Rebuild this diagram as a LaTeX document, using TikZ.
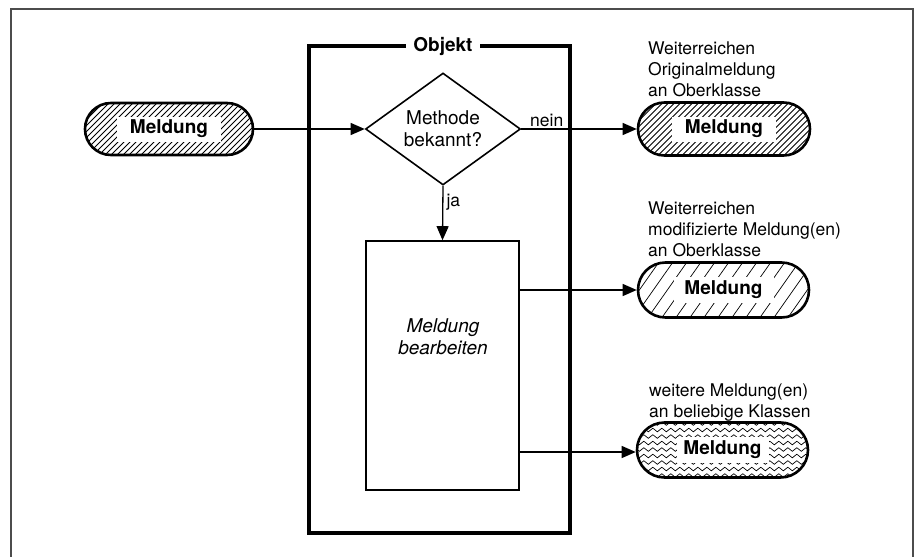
\documentclass[tikz,border=0pt]{standalone}
\usepackage{fontspec}
\setmainfont{TeX Gyre Heros}
\usetikzlibrary{shapes.geometric,shapes.misc,arrows.meta,decorations.pathmorphing}
\begin{document}
\begin{tikzpicture}[x=1pt,y=-1pt,
  pill/.style={rounded rectangle, draw, line width=2.6pt, minimum width=171pt, minimum height=53pt, inner sep=0pt,
    font=\bfseries\fontsize{19}{22}\selectfont},
  densehatch/.style={path picture={
    \foreach \k in {0,...,50}
      \draw[line width=0.8pt] ([xshift=\k*6pt-70pt]path picture bounding box.south west) -- ++(70pt,70pt);
    \fill[white] ([xshift=-52pt,yshift=-12.5pt]path picture bounding box.center) rectangle ++(104pt,25pt);
  }},
  sparsehatch/.style={path picture={
    \foreach \k in {0,...,20}
      \draw[line width=0.7pt] ([xshift=\k*14pt-60pt]path picture bounding box.south west) -- ++(45pt,64pt);
    \fill[white] ([xshift=-50pt,yshift=-13pt]path picture bounding box.center) rectangle ++(100pt,26pt);
  }},
  wavyhatch/.style={path picture={
    \foreach \k in {0,...,8}
      \draw[line width=0.7pt, decorate, decoration={snake, amplitude=1.8pt, segment length=9pt}]
        ([xshift=-5pt,yshift=\k*6.5pt+2pt]path picture bounding box.south west) -- ++(190pt,0pt);
    \fill[white] ([xshift=-46pt,yshift=-13pt]path picture bounding box.center) rectangle ++(92pt,26pt);
  }},
  conn/.style={line width=1.3pt, -{Triangle[length=14pt,width=12pt]}},
  note/.style={align=left, anchor=base west, inner sep=0pt, font=\fontsize{17.5}{21}\selectfont},
]
\useasboundingbox (0,0) rectangle (919,557);
% outer frame
\draw[line width=1.5pt, black!70] (11,557) -- (11,9) -- (913,9) -- (913,557);
% Objekt box
\draw[line width=3.5pt] (309,46) rectangle (570,533);
\node[fill=white, inner xsep=7pt, inner ysep=2pt, font=\bfseries\fontsize{19}{22}\selectfont] (title) at (443,46) {Objekt};
% diamond
\node[diamond, draw, line width=1.6pt, minimum width=155pt, minimum height=112pt, inner sep=0pt, aspect=1.38,
  align=center, font=\fontsize{19}{22}\selectfont] (dec) at (443,129) {Methode\\bekannt?};
% process rectangle
\node[draw, line width=1.6pt, minimum width=153pt, minimum height=249pt, inner sep=0pt] (proc) at (442.5,365.5) {};
\node[align=center, font=\itshape\fontsize{19}{22}\selectfont] (proctext) at (443,337) {Meldung\\bearbeiten};
% pills
\node[pill, densehatch, minimum width=168pt, minimum height=52pt] (in) at (169,129) {Meldung};
\node[pill, densehatch, minimum width=172pt] (out1) at (724,129) {Meldung};
\node[pill, sparsehatch, minimum height=55pt] (out2) at (723.5,290) {Meldung};
\node[pill, wavyhatch, minimum height=55pt] (out3) at (722.5,450) {Meldung};
% labels
\node[note] (l1) at (648,96) {Weiterreichen\\Originalmeldung\\an Oberklasse};
\node[note] (l2) at (648,256) {Weiterreichen\\modifizierte Meldung(en)\\an Oberklasse};
\node[note] (l3) at (649,417) {weitere Meldung(en)\\an beliebige Klassen};
% connectors
\draw[conn] (in.east) -- (dec.west);
\draw[conn] (dec.east) -- node[pos=0.22, above, inner sep=2pt, font=\fontsize{17.5}{21}\selectfont] (nein) {nein} (out1.west);
\draw[conn] (dec.south) -- node[pos=0.3, right, inner sep=3pt, font=\fontsize{17.5}{21}\selectfont] (ja) {ja} (proc.north);
\draw[conn] (proc.east |- out2.west) -- (out2.west);
\draw[conn] (proc.east |- 0,452) -- (out3.west |- 0,452);
\end{tikzpicture}
\end{document}
